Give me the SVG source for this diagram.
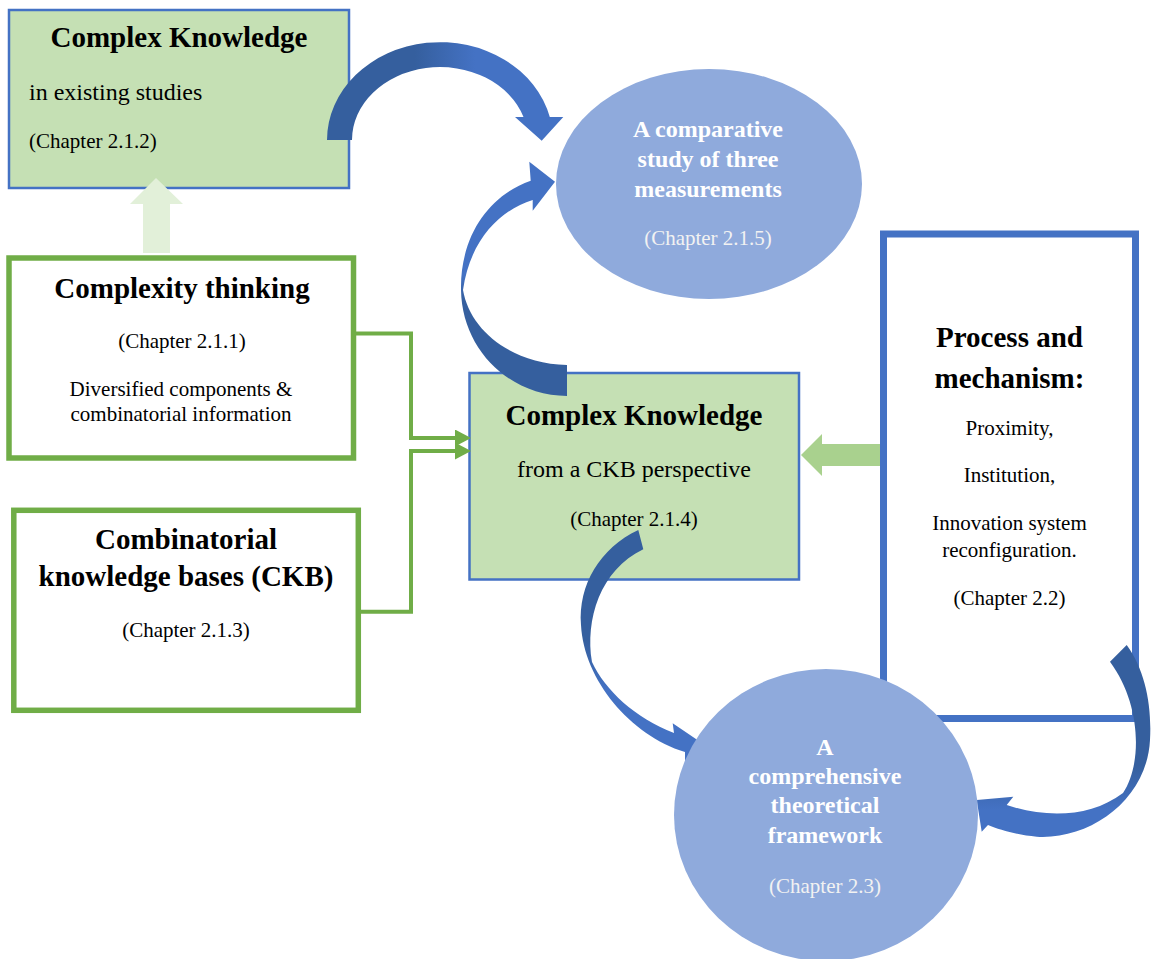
<svg xmlns="http://www.w3.org/2000/svg" width="1151" height="959" viewBox="0 0 1151 959">
<style>
text{font-family:"Liberation Serif","Times New Roman",serif;fill:#000}
.t{font-size:29px;font-weight:bold;text-anchor:middle}
.m{font-size:21px;text-anchor:middle}
.l{font-size:24px}
.w{font-size:24px;font-weight:bold;text-anchor:middle;fill:#fff}
.wc{font-size:21px;text-anchor:middle;fill:#F2F2F2}
.gbox{fill:#C5E0B4;stroke:#4472C4;stroke-width:2.5}
.green{fill:#fff;stroke:#70AD47;stroke-width:5.5}
.conn{fill:none;stroke:#70AD47;stroke-width:4}
.ell{fill:#8FAADC}
</style>
<defs>
<marker id="ah" viewBox="0 0 16 17" refX="1" refY="8.5" markerWidth="16" markerHeight="17" markerUnits="userSpaceOnUse" orient="auto">
<path d="M0,0 L16,8.5 L0,17 z" fill="#70AD47"/>
</marker>
<linearGradient id="g1" gradientUnits="userSpaceOnUse" x1="415" y1="0" x2="475" y2="0"><stop offset="0" stop-color="#355F9E"/><stop offset="1" stop-color="#4472C4"/></linearGradient>
<linearGradient id="g2" gradientUnits="userSpaceOnUse" x1="0" y1="275" x2="0" y2="300"><stop offset="0" stop-color="#4472C4"/><stop offset="1" stop-color="#355F9E"/></linearGradient>
<linearGradient id="g3" gradientUnits="userSpaceOnUse" x1="0" y1="640" x2="0" y2="690"><stop offset="0" stop-color="#355F9E"/><stop offset="1" stop-color="#4472C4"/></linearGradient>
<linearGradient id="g4" gradientUnits="userSpaceOnUse" x1="0" y1="765" x2="0" y2="810"><stop offset="0" stop-color="#355F9E"/><stop offset="1" stop-color="#4472C4"/></linearGradient>
</defs>

<g id="box-existing">
<rect class="gbox" x="9" y="10" width="340" height="178"/>
<text class="t" x="179" y="47">Complex Knowledge</text>
<text class="l" x="29" y="100">in existing studies</text>
<text x="29" y="148" style="font-size:21px">(Chapter 2.1.2)</text>
</g>

<g id="box-complexity">
<rect class="green" x="9" y="258" width="344.5" height="200"/>
<text class="t" x="182" y="298">Complexity thinking</text>
<text class="m" x="182" y="348">(Chapter 2.1.1)</text>
<text class="m" x="181" y="395.5">Diversified components &amp;</text>
<text class="m" x="181" y="421">combinatorial information</text>
</g>

<g id="box-ckb">
<rect class="green" x="13.8" y="510.3" width="344.5" height="200"/>
<text class="t" x="186" y="549">Combinatorial</text>
<text class="t" x="186" y="586">knowledge bases (CKB)</text>
<text class="m" x="186" y="636.5">(Chapter 2.1.3)</text>
</g>

<g id="box-ckb-perspective">
<rect class="gbox" x="469.5" y="373" width="329.5" height="206.5"/>
<text class="t" x="634" y="425">Complex Knowledge</text>
<text class="m" x="634" y="477" style="font-size:24px">from a CKB perspective</text>
<text class="m" x="634" y="526">(Chapter 2.1.4)</text>
</g>

<g id="box-process">
<rect x="883.5" y="234" width="252" height="484.5" fill="#fff" stroke="#4472C4" stroke-width="7"/>
<text class="t" x="1009.5" y="347">Process and</text>
<text class="t" x="1009.5" y="388">mechanism:</text>
<text class="m" x="1009.5" y="435">Proximity,</text>
<text class="m" x="1009.5" y="482">Institution,</text>
<text class="m" x="1009.5" y="530">Innovation system</text>
<text class="m" x="1009.5" y="557">reconfiguration.</text>
<text class="m" x="1009.5" y="605">(Chapter 2.2)</text>
</g>

<g id="connectors">
<polygon points="156,178 183,204 170,204 170,253 143,253 143,204 130,204" fill="#E2F0D9"/>
<polygon points="801,455 822,434 822,444 880,444 880,466 822,466 822,476" fill="#A9D18E"/>
<path class="conn" d="M353,333.5 H411 V438 H456" marker-end="url(#ah)"/>
<path class="conn" d="M358,611.7 H411 V451 H456" marker-end="url(#ah)"/>
<path fill="url(#g1)" d="M327,140 A113,98 0 0 1 549.8,117 L563.3,117 L541.7,140.7 L515,117 L523.5,117 A88,73 0 0 0 352,140 Z"/>
<path fill="url(#g2)" d="M567,396 C510,396 462,350 461,290 C460,235 490,195 530.7,180.7 L529.3,161.7 L555,181.7 L532.7,210.7 L532.7,200 C500,210 470,240 463,290 C470,330 510,363 567,365 Z"/>
<path fill="url(#g3)" d="M638.3,530 C600,548 578,585 581,625 C584,680 630,735 685,752 L685,763.3 L700,741.7 L672.7,723.3 L674,733 C635,718 605,690 592,662 C585,620 600,570 643.3,549.3 Z"/>
<path fill="url(#g4)" d="M1126.7,645 C1145,670 1152,705 1150,740 C1147,800 1090,840 1036.7,836.7 C1018,835 1000,830 988,825 L981.7,831.7 L976.7,800 L1013.3,796.7 L1006.7,805 C1045,818 1090,818 1123,793 C1142,765 1142,705 1110,661.7 Z"/>
</g>

<g id="ellipse-comparative">
<ellipse class="ell" cx="709" cy="184" rx="153" ry="115"/>
<text class="w" x="708" y="137">A comparative</text>
<text class="w" x="708" y="167">study of three</text>
<text class="w" x="708" y="197">measurements</text>
<text class="wc" x="708" y="245">(Chapter 2.1.5)</text>
</g>

<g id="ellipse-framework">
<ellipse class="ell" cx="826" cy="815" rx="152" ry="146"/>
<text class="w" x="825" y="755">A</text>
<text class="w" x="825" y="784">comprehensive</text>
<text class="w" x="825" y="813">theoretical</text>
<text class="w" x="825" y="843">framework</text>
<text class="wc" x="825" y="893">(Chapter 2.3)</text>
</g>
</svg>
